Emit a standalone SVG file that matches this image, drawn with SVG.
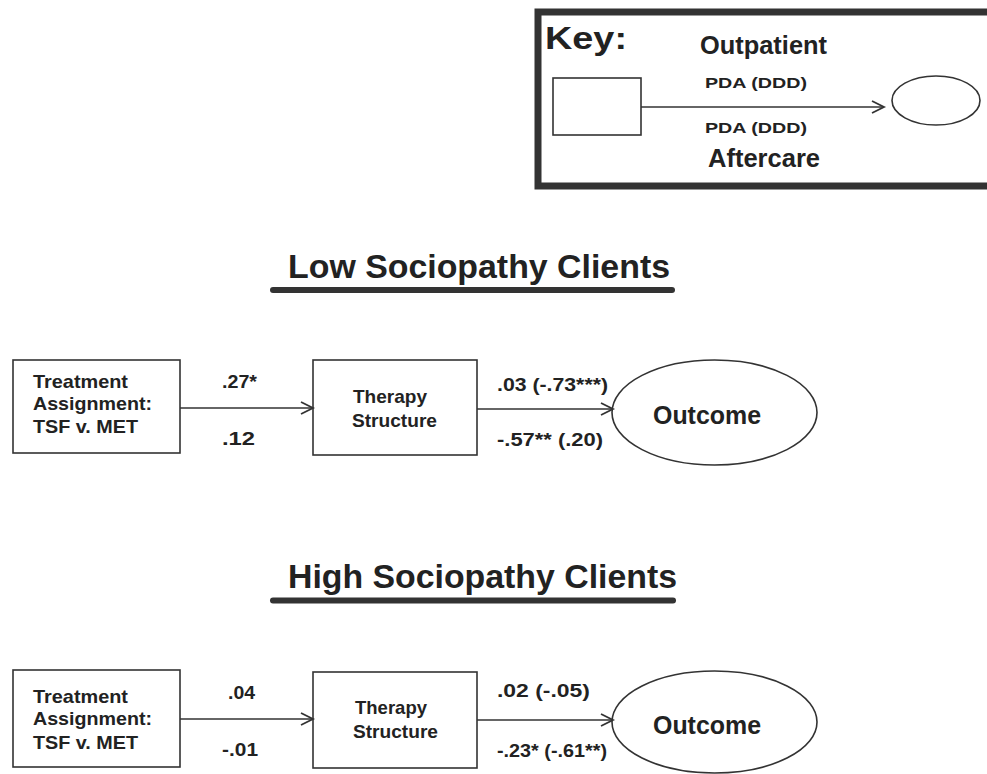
<svg xmlns="http://www.w3.org/2000/svg" width="987" height="774" viewBox="0 0 987 774">
<style>
text{font-family:"Liberation Sans",Arial,sans-serif;font-weight:bold;fill:#222}
.node{fill:#fff;stroke:#333;stroke-width:1.6}
.edge{stroke:#333;stroke-width:1.6;fill:none}
.ttl{font-size:33.5px}
.ul{stroke:#333;stroke-width:6;stroke-linecap:round}
.lbl{font-size:19px}
.el{font-size:17.5px}
.oc{font-size:25px}
.pda{font-size:15px;font-weight:900}
</style>
<defs>
<marker id="arr" markerWidth="16" markerHeight="16" refX="13" refY="7" orient="auto" markerUnits="userSpaceOnUse">
<path d="M1,1 L13,7 L1,13" fill="none" stroke="#333" stroke-width="1.8"/>
</marker>
</defs>
<rect width="987" height="774" fill="#fff"/>

<g id="key">
<rect x="538" y="12" width="470" height="174" fill="none" stroke="#333" stroke-width="7"/>
<text x="545" y="49" font-size="32" font-weight="900" textLength="82" lengthAdjust="spacingAndGlyphs">Key:</text>
<text x="700" y="54" font-size="25" textLength="127" lengthAdjust="spacingAndGlyphs">Outpatient</text>
<rect class="node" x="553" y="78" width="88" height="57"/>
<line class="edge" x1="641" y1="107" x2="884" y2="107" marker-end="url(#arr)"/>
<ellipse class="node" cx="936" cy="100.5" rx="44" ry="24.5"/>
<text class="pda" x="705" y="88" textLength="102" lengthAdjust="spacingAndGlyphs">PDA (DDD)</text>
<text class="pda" x="705" y="133" textLength="102" lengthAdjust="spacingAndGlyphs">PDA (DDD)</text>
<text x="708" y="167" font-size="25" textLength="112" lengthAdjust="spacingAndGlyphs">Aftercare</text>
</g>

<g id="title-low">
<text class="ttl" x="288" y="278" textLength="382" lengthAdjust="spacingAndGlyphs">Low Sociopathy Clients</text>
<line class="ul" x1="273" y1="290" x2="672" y2="290"/>
</g>
<g id="title-high">
<text class="ttl" x="288" y="588" textLength="389" lengthAdjust="spacingAndGlyphs">High Sociopathy Clients</text>
<line class="ul" x1="273" y1="600.5" x2="673" y2="600.5"/>
</g>

<g id="low-treatment">
<rect class="node" x="13" y="360" width="167" height="93"/>
<text class="lbl" x="33" y="388" textLength="95" lengthAdjust="spacingAndGlyphs">Treatment</text>
<text class="lbl" x="33" y="410" textLength="119" lengthAdjust="spacingAndGlyphs">Assignment:</text>
<text class="lbl" x="33" y="433" textLength="105" lengthAdjust="spacingAndGlyphs">TSF v. MET</text>
</g>
<g id="low-therapy">
<rect class="node" x="313" y="360" width="164" height="95"/>
<text class="lbl" x="353" y="403" textLength="74" lengthAdjust="spacingAndGlyphs">Therapy</text>
<text class="lbl" x="352" y="427" textLength="85" lengthAdjust="spacingAndGlyphs">Structure</text>
</g>
<g id="low-outcome">
<ellipse class="node" cx="714.5" cy="412.5" rx="102.5" ry="52.5"/>
<text class="oc" x="653" y="424" textLength="108" lengthAdjust="spacingAndGlyphs">Outcome</text>
</g>

<g id="high-treatment">
<rect class="node" x="13" y="670" width="167" height="97"/>
<text class="lbl" x="33" y="703" textLength="95" lengthAdjust="spacingAndGlyphs">Treatment</text>
<text class="lbl" x="33" y="725" textLength="119" lengthAdjust="spacingAndGlyphs">Assignment:</text>
<text class="lbl" x="33" y="749" textLength="105" lengthAdjust="spacingAndGlyphs">TSF v. MET</text>
</g>
<g id="high-therapy">
<rect class="node" x="313" y="672" width="164" height="96"/>
<text class="lbl" x="355" y="714" textLength="72" lengthAdjust="spacingAndGlyphs">Therapy</text>
<text class="lbl" x="353" y="738" textLength="85" lengthAdjust="spacingAndGlyphs">Structure</text>
</g>
<g id="high-outcome">
<ellipse class="node" cx="714.5" cy="722" rx="102.5" ry="51"/>
<text class="oc" x="653" y="734" textLength="108" lengthAdjust="spacingAndGlyphs">Outcome</text>
</g>

<g id="connectors">
<line class="edge" x1="180" y1="408" x2="313" y2="408" marker-end="url(#arr)"/>
<line class="edge" x1="477" y1="409" x2="613" y2="409" marker-end="url(#arr)"/>
<line class="edge" x1="180" y1="719" x2="313" y2="719" marker-end="url(#arr)"/>
<line class="edge" x1="477" y1="720" x2="613" y2="720" marker-end="url(#arr)"/>
<text class="el" x="222" y="388" textLength="35" lengthAdjust="spacingAndGlyphs">.27*</text>
<text class="el" x="222" y="445" textLength="33" lengthAdjust="spacingAndGlyphs">.12</text>
<text class="el" x="497" y="391" textLength="111" lengthAdjust="spacingAndGlyphs">.03 (-.73***)</text>
<text class="el" x="497" y="446" textLength="106" lengthAdjust="spacingAndGlyphs">-.57** (.20)</text>
<text class="el" x="228" y="699" textLength="27" lengthAdjust="spacingAndGlyphs">.04</text>
<text class="el" x="222" y="756" textLength="36" lengthAdjust="spacingAndGlyphs">-.01</text>
<text class="el" x="497" y="697" textLength="93" lengthAdjust="spacingAndGlyphs">.02 (-.05)</text>
<text class="el" x="497" y="757" textLength="110" lengthAdjust="spacingAndGlyphs">-.23* (-.61**)</text>
</g>
</svg>
